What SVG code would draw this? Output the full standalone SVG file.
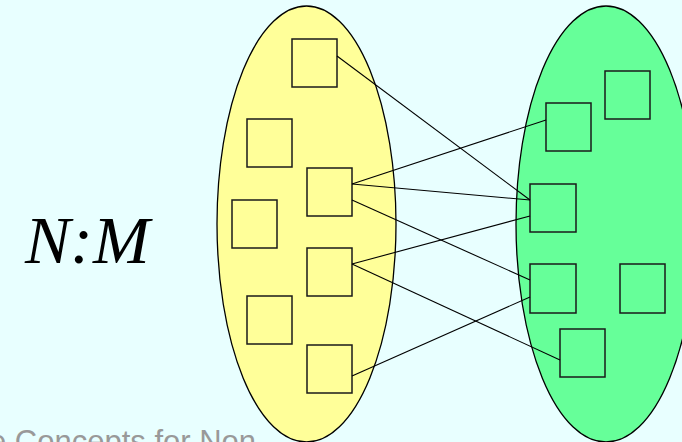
<svg xmlns="http://www.w3.org/2000/svg" width="682" height="442" viewBox="0 0 682 442">
<style>
.set{stroke:#000;stroke-width:1.3}
.box{stroke:#1a1a1a;stroke-width:1.5}
.l .box{fill:#FFFF99}
.r .box{fill:#66FF99}
.c line{stroke:#000;stroke-width:1.1}
</style>
<rect width="682" height="442" fill="#E8FFFF"/>
<text x="-11" y="452" font-family="Liberation Sans, Arial, sans-serif" font-size="31" fill="#999999">e Concepts for Non</text>
<text x="25" y="263" font-family="Liberation Serif, Times New Roman, serif" font-style="italic" font-size="68" fill="#000">N:M</text>
<ellipse id="setN" class="set" cx="306.5" cy="224" rx="89.5" ry="218" fill="#FFFF99"/>
<ellipse id="setM" class="set" cx="606" cy="224" rx="90" ry="218" fill="#66FF99"/>
<g class="l">
<g id="n1"><rect class="box" x="292" y="39" width="45" height="48"/></g>
<g id="n2"><rect class="box" x="247" y="119" width="45" height="48"/></g>
<g id="n3"><rect class="box" x="307" y="168" width="45" height="48"/></g>
<g id="n4"><rect class="box" x="232" y="200" width="45" height="48"/></g>
<g id="n5"><rect class="box" x="307" y="248" width="45" height="48"/></g>
<g id="n6"><rect class="box" x="247" y="296" width="45" height="48"/></g>
<g id="n7"><rect class="box" x="307" y="345" width="45" height="48"/></g>
</g>
<g class="r">
<g id="m1"><rect class="box" x="605" y="71" width="45" height="48"/></g>
<g id="m2"><rect class="box" x="546" y="103" width="45" height="48"/></g>
<g id="m3"><rect class="box" x="530" y="184" width="46" height="48"/></g>
<g id="m4"><rect class="box" x="530" y="264" width="46" height="49"/></g>
<g id="m5"><rect class="box" x="620" y="264" width="45" height="49"/></g>
<g id="m6"><rect class="box" x="560" y="329" width="45" height="48"/></g>
</g>
<g class="c" id="connectors">
<line x1="337" y1="56" x2="530" y2="200"/>
<line x1="352" y1="184" x2="546" y2="120"/>
<line x1="352" y1="184" x2="530" y2="200"/>
<line x1="352" y1="200" x2="530" y2="280"/>
<line x1="352" y1="264" x2="530" y2="216"/>
<line x1="352" y1="264" x2="560" y2="360"/>
<line x1="352" y1="376" x2="530" y2="297"/>
</g>
</svg>
